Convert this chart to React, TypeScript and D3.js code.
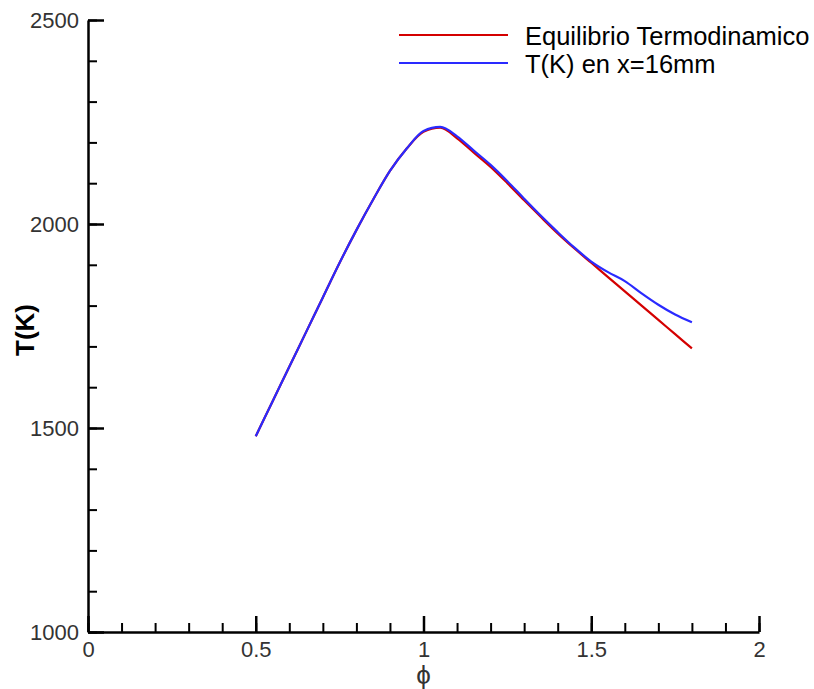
import React, { useEffect, useRef } from 'react';
import * as d3 from 'd3';

// equivalence ratio samples
const phi = [0.5, 0.55, 0.6, 0.65, 0.7, 0.75, 0.8, 0.85, 0.9, 0.95, 1.0, 1.05, 1.1, 1.15, 1.2, 1.25,
  1.3, 1.35, 1.4, 1.45, 1.5, 1.55, 1.6, 1.65, 1.7, 1.75, 1.8];

// Equilibrio Termodinamico
const tEquil = [1480, 1565, 1650, 1735, 1820, 1905, 1985, 2060, 2130, 2185, 2226, 2236, 2210, 2175, 2140,
  2100, 2058, 2017, 1977, 1940, 1905, 1870, 1835, 1800, 1765, 1730, 1695];

// T(K) en x=16mm
const tX16 = [1480, 1565, 1650, 1735, 1820, 1905, 1985, 2060, 2130, 2185, 2228, 2238, 2215, 2180, 2145,
  2105, 2062, 2020, 1980, 1942, 1908, 1882, 1860, 1830, 1802, 1778, 1759];

const xMajor = [0, 0.5, 1, 1.5, 2];
const yMajor = [1000, 1500, 2000, 2500];

const seriesNames = ['Equilibrio Termodinamico', 'T(K) en x=16mm'];
const seriesColors = ['#d40000', '#2a2aff'];

export default function App() {
  const node = useRef<SVGSVGElement>(null);

  useEffect(() => {
    const svg = d3.select(node.current);
    svg.selectAll('*').remove();

    const margin = { left: 88, top: 20, right: 55, bottom: 57 };
    const width = 814, height = 689;

    const x = d3.scaleLinear().domain([0, 2]).range([margin.left, width - margin.right]);
    const y = d3.scaleLinear().domain([1000, 2500]).range([height - margin.bottom, margin.top]);

    const font = '"Liberation Sans", Arial, sans-serif';

    // minor ticks
    svg.append('g')
      .attr('transform', `translate(0,${y(1000)})`)
      .call(d3.axisBottom(x).tickValues(d3.range(0, 2.001, 0.1)).tickSize(-9).tickSizeOuter(0).tickFormat(() => ''))
      .call(g => g.select('.domain').remove())
      .call(g => g.selectAll('line').attr('stroke', '#000').attr('stroke-width', 2));
    svg.append('g')
      .attr('transform', `translate(${x(0)},0)`)
      .call(d3.axisLeft(y).tickValues(d3.range(1000, 2501, 100)).tickSize(-9).tickSizeOuter(0).tickFormat(() => ''))
      .call(g => g.select('.domain').remove())
      .call(g => g.selectAll('line').attr('stroke', '#000').attr('stroke-width', 2));

    // major ticks + labels
    const xAxis = svg.append('g')
      .attr('transform', `translate(0,${y(1000)})`)
      .call(d3.axisBottom(x).tickValues(xMajor).tickSize(-16).tickSizeOuter(0).tickPadding(9)
        .tickFormat(d => String(d)));
    const yAxis = svg.append('g')
      .attr('transform', `translate(${x(0)},0)`)
      .call(d3.axisLeft(y).tickValues(yMajor).tickSize(-16).tickSizeOuter(0).tickPadding(9)
        .tickFormat(d => String(d)));
    [xAxis, yAxis].forEach(g => {
      g.select('.domain').attr('stroke', '#000').attr('stroke-width', 2.5);
      g.selectAll('line').attr('stroke', '#000').attr('stroke-width', 2.5);
      g.selectAll('text').attr('fill', '#333').style('font-family', font).style('font-size', '22px');
    });

    // curves
    const line = d3.line<number>()
      .x((d, i) => x(phi[i]))
      .y(d => y(d))
      .curve(d3.curveMonotoneX);
    [tEquil, tX16].forEach((s, i) => {
      svg.append('path')
        .datum(s)
        .attr('fill', 'none')
        .attr('stroke', seriesColors[i])
        .attr('stroke-width', 2.2)
        .attr('stroke-linejoin', 'round')
        .attr('d', line);
    });

    // legend
    const legend = svg.append('g');
    seriesNames.forEach((name, i) => {
      const ly = 35 + i * 28;
      legend.append('line')
        .attr('x1', 399).attr('x2', 508)
        .attr('y1', ly).attr('y2', ly)
        .attr('stroke', seriesColors[i])
        .attr('stroke-width', 2.2);
      legend.append('text')
        .attr('x', 525)
        .attr('y', ly + 10)
        .attr('fill', '#000')
        .style('font-family', font)
        .style('font-size', '25.5px')
        .text(name);
    });

    // axis titles
    svg.append('text')
      .attr('transform', `translate(34,330) rotate(-90)`)
      .attr('text-anchor', 'middle')
      .style('font-family', font)
      .style('font-size', '26px')
      .style('font-weight', 'bold')
      .text('T(K)');
    svg.append('text')
      .attr('x', x(1))
      .attr('y', 684)
      .attr('text-anchor', 'middle')
      .attr('fill', '#333')
      .style('font-family', font)
      .style('font-size', '26px')
      .text('ϕ');
  }, []);

  return (
    <svg ref={node} width={814} height={689}
      style={{ position: 'absolute', left: 0, top: 0, background: '#fff' }} />
  );
}
